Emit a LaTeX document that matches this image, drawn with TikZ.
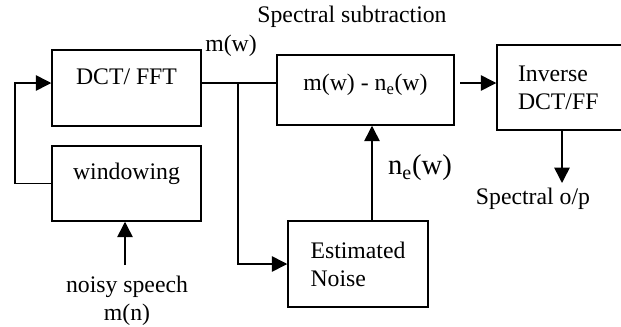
\documentclass[tikz,border=0pt]{standalone}
\usepackage{fontspec}
\setmainfont{Liberation Serif}
\usetikzlibrary{arrows.meta,positioning}

\begin{document}
\begin{tikzpicture}[x=0.75pt, y=-0.75pt,
  blk/.style={draw, line width=1.1pt, inner sep=0pt, font=\fontsize{17.8}{21}\selectfont},
  lift/.style={text height=13pt, text depth=#1},
  lbl/.style={inner sep=0pt, align=center, font=\fontsize{17.8}{21}\selectfont},
  arr/.style={-{Triangle[length=11.5pt, width=11.5pt]}, line width=1.1pt},
  ln/.style={line width=1.1pt}
]
\useasboundingbox (0,0) rectangle (621,326);
\clip (0,0) rectangle (621,326);

% blocks
\node[blk, lift=17.7pt, minimum width=111.75pt, minimum height=57pt] (dct) at (126.5,88) {DCT/ FFT};
\node[blk, lift=18.4pt, minimum width=111.75pt, minimum height=56.25pt] (win) at (126.5,183.5) {windowing};
\node[blk, lift=11.7pt, minimum width=132.75pt, minimum height=52.5pt] (sub) at (365.5,90) {m(w) - n\textsubscript{e}(w)};
\node[blk, align=left, text width=73.5pt, minimum width=105pt, minimum height=63.75pt] (inv) at (567,87.5) {Inverse\\DCT/FF};
\node[blk, align=left, minimum width=105pt, minimum height=64.5pt] (est) at (358,264) {Estimated\\Noise};

% labels
\node[lbl] (mw) at (231,46) {m(w)};
\node[lbl] (sslbl) at (352,17) {Spectral subtraction};
\node[lbl, font=\fontsize{21.5}{24}\selectfont] (nelbl) at (420,168) {n\textsubscript{e}(w)};
\node[lbl] (noisy) at (127,301) {noisy speech\\m(n)};
\node[lbl] (outlbl) at (533,199) {Spectral o/p};

% helper points
\coordinate (bus) at (0,83);
\coordinate (split) at (238,83);
\coordinate (loop) at (15,0);
\coordinate (netap) at (372,0);
\coordinate (subout) at (460,83);
\coordinate (insrc) at (125,265);
\coordinate (outend) at (562,183);

% connectors
\draw[arr] (win.west) -- (loop |- win.west) -- (loop |- bus) -- (dct.west |- bus);
\draw[ln] (dct.east |- bus) -- (sub.west |- bus);
\draw[arr] (split) |- (est.west);
\draw[arr] (subout) -- (inv.west |- bus);
\draw[arr] (est.north -| netap) -- (sub.south -| netap);
\draw[arr] (insrc) -- (win.south -| insrc);
\draw[arr] (inv.south -| outend) -- (outend);

\end{tikzpicture}
\end{document}
